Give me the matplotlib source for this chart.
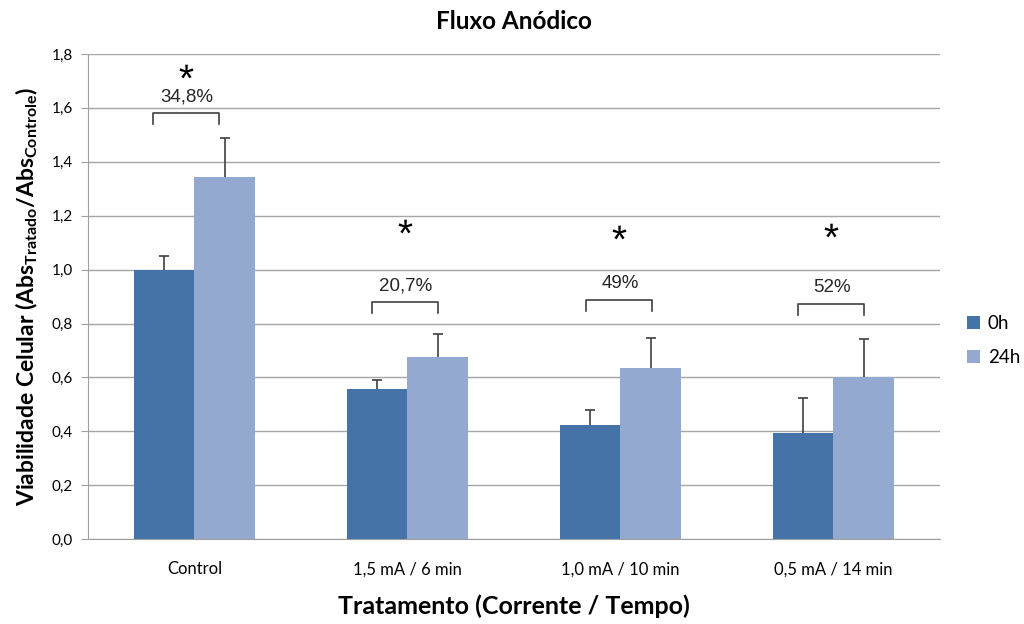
import numpy as np
import matplotlib
matplotlib.use('Agg')
import matplotlib.pyplot as plt

# data
categories = ['Control', '1,5 mA / 6 min', '1,0 mA / 10 min', '0,5 mA / 14 min']
vals_0h = [1.00, 0.558, 0.423, 0.392]
err_0h = [0.052, 0.031, 0.057, 0.132]
vals_24h = [1.345, 0.674, 0.634, 0.60]
err_24h = [0.145, 0.088, 0.111, 0.142]
pct_labels = ['34,8%', '20,7%', '49%', '52%']
bracket_top = [1.58, 0.879, 0.887, 0.872]
star_y = [1.735, 1.162, 1.140, 1.147]
yticks = [0.0, 0.2, 0.4, 0.6, 0.8, 1.0, 1.2, 1.4, 1.6, 1.8]

plt.rcParams['mathtext.fontset'] = 'custom'
plt.rcParams['mathtext.rm'] = 'Lato:bold'
plt.rcParams['mathtext.sf'] = 'Liberation Sans'

fig = plt.figure(figsize=(10.24, 6.24), dpi=100)
ax = fig.add_axes([0.0859, 0.136, 0.832, 0.7775])

x = np.arange(len(categories))
w = 0.286
c0 = '#4572A7'
c1 = '#94A9CF'
ax.bar(x - w/2, vals_0h, w, color=c0, label='0h', zorder=2)
ax.bar(x + w/2, vals_24h, w, color=c1, label='24h', zorder=2)

# upper error bars only (cap at top, none at the bar)
for xs, v, e in [(x - w/2, vals_0h, err_0h), (x + w/2, vals_24h, err_24h)]:
    tops = np.array(v) + np.array(e)
    ax.vlines(xs, v, tops, color='#404040', lw=1.2, zorder=3)
    ax.plot(xs, tops, ls='none', marker='_', ms=7, mew=1.2, color='#404040', zorder=3)

# brackets, percentages and stars
offs = [-0.04, -0.012, -0.005, -0.012]
for i in range(len(categories)):
    cx = x[i] + offs[i]
    top = bracket_top[i]
    ax.plot([cx - 0.155, cx - 0.155, cx + 0.155, cx + 0.155],
            [top - 0.04, top, top, top - 0.04], color='#404040', lw=1.2, zorder=3)
    ax.text(cx + 0.005, top + 0.062, pct_labels[i], ha='center', va='center',
            fontsize=13.5, family='Liberation Sans', color='#262626')
    ax.plot(cx, star_y[i], ls='none', marker=r'$\mathsf{*}$', ms=10,
            color='black', mew=0, zorder=3)

ax.set_xlim(-0.5, len(categories) - 0.5)
ax.set_ylim(0, 1.8)
ax.set_yticks(yticks)
ax.set_yticklabels([('%.1f' % t).replace('.', ',') for t in yticks],
                   family='Lato', fontsize=11)
ax.set_xticks(x)
ax.set_xticklabels(categories, family='Lato', fontsize=12)
ax.tick_params(axis='x', length=0, pad=16)
ax.tick_params(axis='y', length=5, color='#A0A0A0', pad=6)
ax.grid(axis='y', color='#A6A6A6', lw=1, zorder=0)
ax.set_axisbelow(True)
for s in ['top', 'right']:
    ax.spines[s].set_visible(False)
ax.spines['left'].set_color('#A0A0A0')
ax.spines['bottom'].set_color('#A0A0A0')

ax.set_title('Fluxo Anódico', family='Lato', fontweight='bold', fontsize=17.5, pad=18)
ax.set_xlabel('Tratamento (Corrente / Tempo)', family='Lato', fontweight='bold',
              fontsize=18, labelpad=12)
ax.set_ylabel(r'Viabilidade Celular (Abs$_{\mathrm{Tratado}}$/Abs$_{\mathrm{Controle}}$)',
              family='Lato', fontweight='bold', fontsize=16.5, labelpad=8)

ax.legend(loc='center left', bbox_to_anchor=(1.032, 0.41), frameon=False,
          borderpad=0, borderaxespad=0,
          prop={'family': 'Lato', 'size': 13.5}, handlelength=0.7, handleheight=0.7,
          handletextpad=0.4, labelspacing=0.9)

fig.savefig('out.png', dpi=100)
